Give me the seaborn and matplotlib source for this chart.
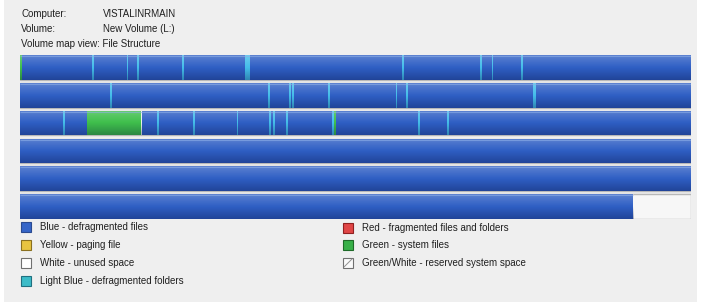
import numpy as np
import pandas as pd
import matplotlib
matplotlib.use("Agg")
import matplotlib.pyplot as plt
from matplotlib.patches import Rectangle
import seaborn as sns

# ---------------- data (positions in % of volume, per map row) ----------------
rows = ["r1", "r2", "r3", "r4", "r5", "r6"]
row_used = [100, 100, 100, 100, 100, 91.4]          # blue (used) extent per row
folder_row = [0, 0, 0, 0, 0, 0, 0, 0, 0,
              1, 1, 1, 1, 1, 1, 1, 1,
              2, 2, 2, 2, 2, 2, 2, 2, 2, 2]
folder_pos = [10.7, 15.9, 17.4, 24.1, 33.6, 56.9, 68.6, 70.3, 74.7,
              13.4, 37.0, 40.1, 40.5, 45.9, 56.0, 57.5, 76.5,
              6.4, 20.4, 25.8, 32.3, 37.1, 37.7, 39.6, 46.5, 59.3, 63.6]
folder_w = [0.3, 0.25, 0.3, 0.3, 0.75, 0.3, 0.25, 0.25, 0.3,
            0.25, 0.25, 0.3, 0.3, 0.25, 0.25, 0.3, 0.35,
            0.3, 0.25, 0.25, 0.25, 0.25, 0.25, 0.3, 0.25, 0.3, 0.3]
system_row = [0, 2, 2]
system_start = [0.0, 10.0, 46.8]
system_w = [0.3, 8.2, 0.25]

header_labels = ["Computer:", "Volume:", "Volume map view: File Structure"]
header_values = ["VISTALINRMAIN", "New Volume (L:)", ""]
legend_left = ["Blue - defragmented files", "Yellow - paging file",
               "White - unused space", "Light Blue - defragmented folders"]
legend_right = ["Red - fragmented files and folders", "Green - system files",
                "Green/White - reserved system space"]

# ---------------- style ----------------
sns.set_theme(style="white")
plt.rcParams["font.family"] = ["Liberation Sans", "DejaVu Sans"]

W, H = 702, 305
fig = plt.figure(figsize=(W / 100, H / 100), dpi=100)
fig.patch.set_facecolor("white")
fig.add_artist(Rectangle((4 / W, 3 / H), 693 / W, 302 / H, transform=fig.transFigure,
                         facecolor="#efefef", edgecolor="none", zorder=-10))

BLUE = "#2f5fc4"
LBLUE = "#44bdea"
GREEN = "#3fbf4c"

bh = 0.89
ax = fig.add_axes([20 / W, 1 - 219 / H, 671 / W, 164 / H])
ax.set_facecolor("none")

# unused (white) background per row
df_full = pd.DataFrame({"row": rows, "val": [100] * 6})
sns.barplot(data=df_full, x="val", y="row", orient="h", width=bh,
            color="#f7f7f7", edgecolor="#b8b8b8", linewidth=1.0, ax=ax,
            saturation=1, zorder=1)
# used (blue) extent
df_used = pd.DataFrame({"row": rows, "val": row_used})
sns.barplot(data=df_used, x="val", y="row", orient="h", width=bh,
            color=BLUE, linewidth=0, ax=ax, saturation=1, zorder=2)

ax.barh(folder_row, folder_w, left=folder_pos, height=bh, color=LBLUE,
        linewidth=0, zorder=3)
ax.barh(system_row, system_w, left=system_start, height=bh, color=GREEN,
        linewidth=0, zorder=3)
# light border at the right of the green block
ax.barh([2], [0.25], left=[18.0], height=bh, color="#e8f4e8", linewidth=0, zorder=3)

# vertical shading gradient over used areas
grad = np.zeros((64, 1, 4))
t = np.linspace(0, 1, 64)
for i, tt in enumerate(t):
    if tt < 0.5:
        a = 0.22 * (1 - tt / 0.5)
        grad[i, 0] = [1, 1, 1, a]
    else:
        a = 0.30 * ((tt - 0.5) / 0.5)
        grad[i, 0] = [0, 0.02, 0.2, a]
for r, u in enumerate(row_used):
    ax.imshow(grad, extent=(0, u, r + bh / 2, r - bh / 2), aspect="auto",
              zorder=4, interpolation="bilinear")
    ax.plot([0, u], [r - bh / 2 + 0.04, r - bh / 2 + 0.04], color="#8fb0e8",
            lw=0.8, alpha=0.6, zorder=5, solid_capstyle="butt")

ax.set_xlim(0, 100)
ax.set_ylim(5 + bh / 2, -bh / 2)
ax.axis("off")

# ---------------- header text ----------------
fs = 7
for i, (lab, val) in enumerate(zip(header_labels, header_values)):
    y = 1 - (14 + 15 * i) / H
    fig.text(21 / W, y, lab, fontsize=fs, va="center", ha="left", color="#202020")
    if val:
        fig.text(103 / W, y, val, fontsize=fs, va="center", ha="left", color="#202020")

# ---------------- legend ----------------
def square(x, y, face, edge, diag=False):
    fig.add_artist(Rectangle((x / W, 1 - (y + 5) / H), 10 / W, 10 / H,
                             transform=fig.transFigure, facecolor=face,
                             edgecolor=edge, linewidth=0.8))
    if diag:
        fig.add_artist(plt.Line2D([(x + 1) / W, (x + 9) / W],
                                  [1 - (y + 4) / H, 1 - (y - 4) / H],
                                  transform=fig.transFigure, color="#909090", lw=0.7))

left_faces = [("#3565c8", "#2a4a90"), ("#e8c440", "#8a7020"),
              ("#ffffff", "#707070"), ("#3cbcc8", "#207080")]
left_y = [227, 245, 263, 281]
for (face, edge), y, lab in zip(left_faces, left_y, legend_left):
    square(21, y, face, edge)
    fig.text(40 / W, 1 - y / H, lab, fontsize=fs, va="center", ha="left", color="#202020")

right_faces = [("#e04646", "#902020"), ("#38b048", "#1e6a28"), ("#fafafa", "#707070")]
right_y = [228, 245, 263]
for k, ((face, edge), y, lab) in enumerate(zip(right_faces, right_y, legend_right)):
    square(343, y, face, edge, diag=(k == 2))
    fig.text(362 / W, 1 - y / H, lab, fontsize=fs, va="center", ha="left", color="#202020")

fig.savefig("out.png", dpi=100, facecolor=fig.get_facecolor())
